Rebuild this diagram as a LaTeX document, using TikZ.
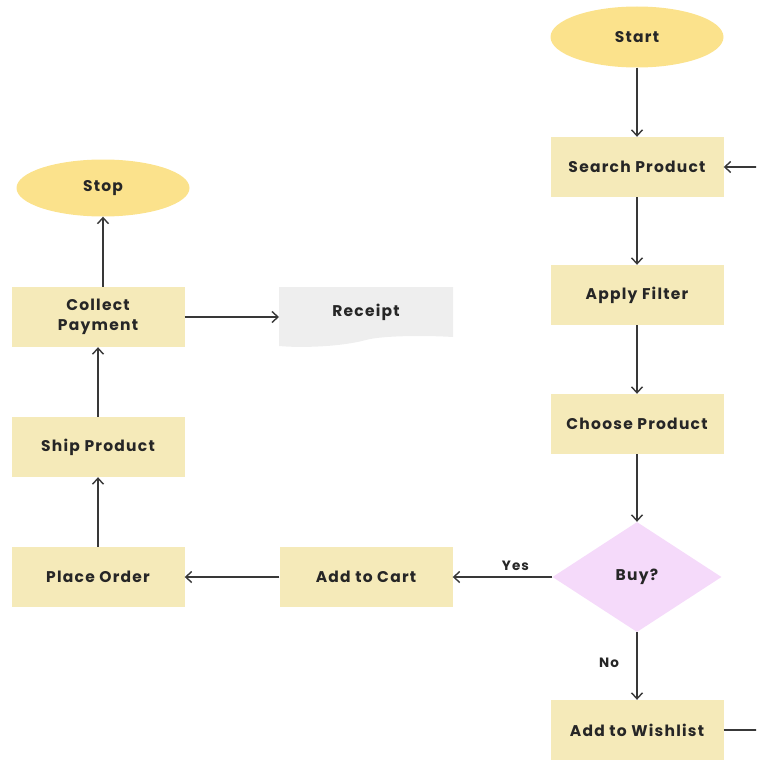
\documentclass[tikz,border=0pt]{standalone}
\usepackage{fontspec}
\setmainfont{Poppins}[LetterSpace=8]
\usetikzlibrary{shapes.geometric,arrows.meta}
\definecolor{boxfill}{HTML}{F5EAB9}
\definecolor{ellfill}{HTML}{FBE28C}
\definecolor{dimfill}{HTML}{F5DAFA}
\definecolor{docfill}{HTML}{EEEEEE}
\definecolor{linecol}{HTML}{383838}
\begin{document}
\begin{tikzpicture}[x=1pt,y=-1pt,
  every node/.style={font=\fontsize{15.5}{20}\selectfont\bfseries, text=black!85},
  stepbox/.style={rectangle, fill=boxfill, minimum width=173pt, minimum height=60pt, align=center, inner sep=0pt},
  term/.style={ellipse, fill=ellfill, minimum width=173pt, minimum height=60pt, inner sep=0pt},
  decide/.style={diamond, fill=dimfill, minimum width=169pt, minimum height=110pt, inner sep=0pt, aspect=1.54},
  conn/.style={draw=linecol, line width=1.4pt, -{Straight Barb[length=6pt,width=11pt,line width=1.4pt]}},
  lbl/.style={font=\fontsize{13.5}{15}\selectfont\bfseries}
]
\useasboundingbox (0,0) rectangle (756,760);
\clip (0,0) rectangle (756,760);
% right column
\node[term, minimum height=61pt] (start) at (637,37) {Start};
\node[stepbox] (search) at (637,167) {Search Product};
\node[stepbox] (filter) at (637,295) {Apply Filter};
\node[stepbox] (choose) at (637,424) {Choose Product};
\node[decide] (buy) at (637,577) {Buy?};
\node[stepbox] (wish) at (637,730) {Add to Wishlist};
% middle / left
\node[stepbox] (cart) at (366,577) {Add to Cart};
\node[stepbox] (order) at (98,577) {Place Order};
\node[stepbox] (ship) at (98,447) {Ship Product};
\node[stepbox] (collect) at (98,317) {Collect\\Payment};
\node[term, minimum height=57pt] (stop) at (103,188) {Stop};
% receipt document shape
\fill[docfill] (279,287) -- (453,287) -- (453,337)
  .. controls (420,335) and (380,336) .. (366,340)
  .. controls (340,347) and (300,348) .. (279,346) -- cycle;
\node (receipt) at (366,312) {Receipt};
\coordinate (receiptin) at (279,317);
% connectors
\draw[conn] (start) -- (search);
\draw[conn] (search) -- (filter);
\draw[conn] (filter) -- (choose);
\draw[conn] (choose) -- (buy.north);
\draw[conn] (buy.south) -- node[lbl, left=14pt, pos=0.45] {No} (wish);
\draw[conn] (buy.west) -- node[lbl, above=2pt, pos=0.37] {Yes} (cart);
\draw[conn] (cart) -- (order);
\draw[conn] (order) -- (ship);
\draw[conn] (ship) -- (collect);
\draw[conn] (stop.south |- collect.north) -- (stop.south);
\draw[conn] (collect.east) -- (receiptin);
\coordinate (loopA) at (775,730);
\coordinate (loopB) at (775,167);
\draw[conn] (wish.east) -- (loopA) -- (loopB) -- (search.east);
\end{tikzpicture}
\end{document}
